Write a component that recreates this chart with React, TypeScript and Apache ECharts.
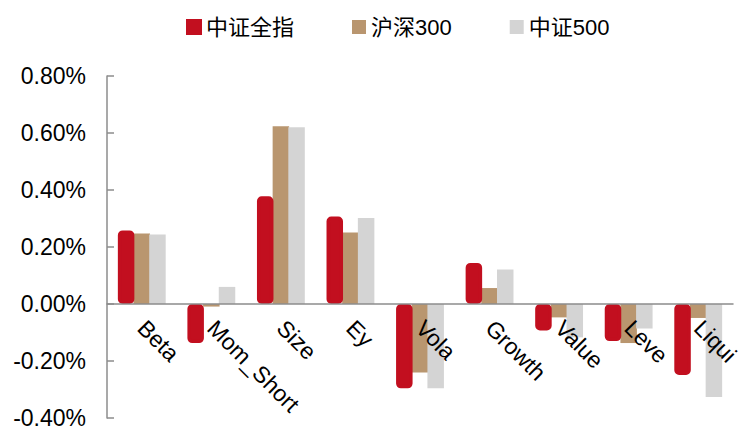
import React, { useEffect, useRef } from "react";
import * as echarts from "echarts";

const categories = ["Beta", "Mom_Short", "Size", "Ey", "Vola", "Growth", "Value", "Leve", "Liqui"];
const seriesNames = ["中证全指", "沪深300", "中证500"];
const allIndex = [0.258, -0.137, 0.378, 0.307, -0.296, 0.144, -0.093, -0.13, -0.249];
const hs300 = [0.247, -0.009, 0.624, 0.251, -0.24, 0.056, -0.047, -0.137, -0.049];
const zz500 = [0.244, 0.06, 0.62, 0.302, -0.296, 0.121, -0.117, -0.086, -0.326];
const colors = ["#c20f1f", "#b9966f", "#d4d4d4"];

export default function App() {
  const ref = useRef<HTMLDivElement>(null);
  useEffect(() => {
    if (!ref.current) return;
    const chart = echarts.init(ref.current, undefined, { renderer: "svg" });
    const font = "'Liberation Sans', Arial, 'Noto Sans CJK SC', sans-serif";
    const dataSets = [allIndex, hs300, zz500];
    chart.setOption({
      animation: false,
      legend: {
        left: 181,
        top: 11,
        itemWidth: 14,
        itemHeight: 14,
        itemGap: 58,
        icon: "rect",
        textStyle: { fontFamily: font, fontSize: 22, color: "#000" },
        data: seriesNames,
      },
      grid: { left: 107, right: 14, top: 76, bottom: 20, containLabel: false, outerBoundsMode: "none" },
      xAxis: {
        type: "category",
        data: categories,
        z: 10,
        axisLine: { onZero: true, lineStyle: { color: "#8c8c8c", width: 1.5 } },
        axisTick: { inside: true, length: 7, lineStyle: { color: "#8c8c8c", width: 1.5 } },
        axisLabel: {
          rotate: -45,
          margin: -94,
          interval: 0,
          fontFamily: font,
          fontSize: 23,
          color: "#000",
        },
      },
      yAxis: {
        type: "value",
        min: -0.4,
        max: 0.8,
        interval: 0.2,
        splitLine: { show: false },
        axisLine: { show: true, lineStyle: { color: "#8c8c8c", width: 1.5 } },
        axisTick: { show: true, inside: true, length: 7, lineStyle: { color: "#8c8c8c", width: 1.5 } },
        axisLabel: {
          margin: 21,
          fontFamily: font,
          fontSize: 23,
          color: "#000",
          formatter: (v: number) => v.toFixed(2) + "%",
        },
      },
      series: seriesNames.map((name, i) => ({
        name,
        type: "bar",
        data: dataSets[i],
        barWidth: 16.5,
        barGap: "-5%",
        z: i === 0 ? 4 : 2,
        itemStyle:
          i === 0
            ? { color: colors[0], borderColor: colors[0], borderWidth: 3.5, borderRadius: 3 }
            : { color: colors[i] },
      })),
    });
    return () => chart.dispose();
  }, []);
  return <div ref={ref} style={{ width: 747, height: 438, position: "absolute", left: 0, top: 0 }} />;
}
